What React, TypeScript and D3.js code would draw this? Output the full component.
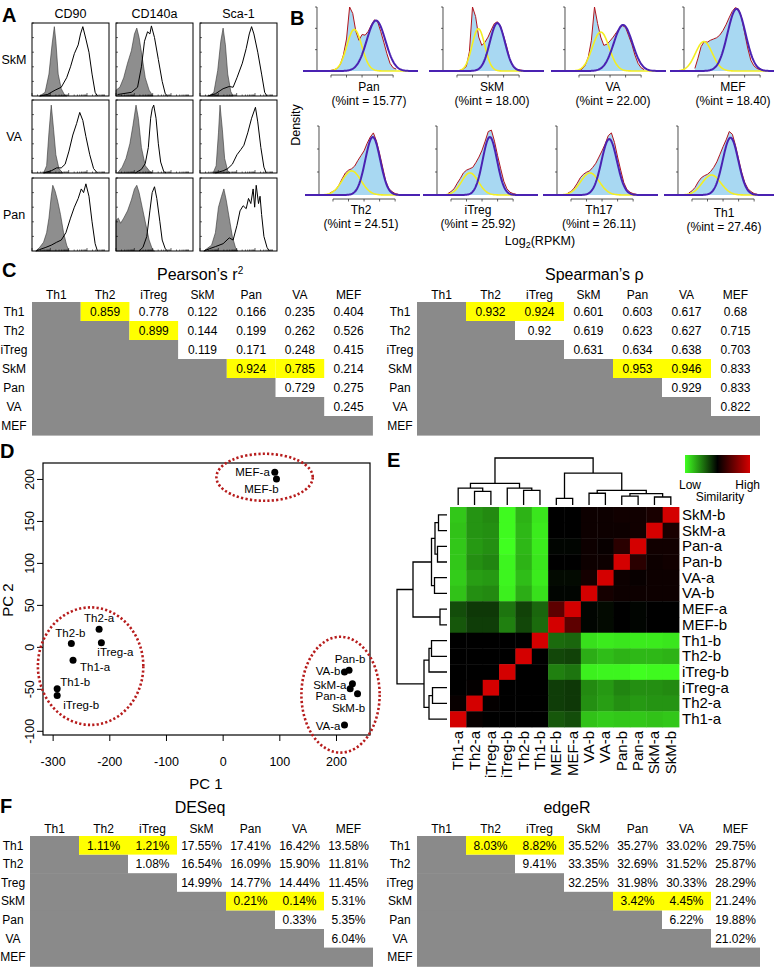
import React, { useRef, useEffect } from 'react';
import * as d3 from 'd3';

const FONT = "'Liberation Sans', Arial, Helvetica, sans-serif";

// ---------- A: flow cytometry, [position on log axis (0-1), relative count]
const flowMarkers = ['CD90', 'CD140a', 'Sca-1'];
const flowSources = ['SkM', 'VA', 'Pan'];

const skmIsotype = [
  [[0.1, 0], [0.17, 0.05], [0.22, 0.3], [0.26, 0.7], [0.29, 0.95], [0.31, 0.75], [0.34, 0.3], [0.38, 0.1], [0.42, 0.02], [0.45, 0]],
  [[0, 0.08], [0.05, 0.12], [0.1, 0.25], [0.15, 0.45], [0.2, 0.62], [0.24, 0.85], [0.27, 0.93], [0.3, 0.8], [0.33, 0.6], [0.38, 0.25], [0.43, 0.08], [0.48, 0]],
  [[0.12, 0], [0.18, 0.05], [0.23, 0.35], [0.27, 0.75], [0.3, 0.93], [0.33, 0.7], [0.36, 0.3], [0.4, 0.06], [0.43, 0]],
];
const skmStained = [
  [[0.1, 0], [0.2, 0.02], [0.3, 0.08], [0.38, 0.12], [0.45, 0.25], [0.5, 0.4], [0.55, 0.58], [0.6, 0.7], [0.63, 0.85], [0.66, 0.95], [0.7, 0.78], [0.74, 0.6], [0.78, 0.3], [0.82, 0.05], [0.85, 0]],
  [[0.02, 0.02], [0.2, 0.05], [0.28, 0.12], [0.33, 0.4], [0.37, 0.75], [0.41, 0.88], [0.44, 0.85], [0.46, 0.96], [0.5, 0.8], [0.55, 0.5], [0.6, 0.2], [0.64, 0.03], [0.67, 0]],
  [[0.1, 0], [0.2, 0.03], [0.3, 0.1], [0.38, 0.13], [0.43, 0.12], [0.48, 0.25], [0.55, 0.45], [0.6, 0.65], [0.64, 0.85], [0.67, 0.95], [0.7, 0.85], [0.75, 0.6], [0.8, 0.3], [0.84, 0.05], [0.87, 0]],
];
const vaIsotype = [
  [[0.15, 0], [0.19, 0.1], [0.22, 0.55], [0.25, 0.93], [0.28, 0.6], [0.31, 0.25], [0.35, 0.06], [0.4, 0]],
  [[0.02, 0], [0.08, 0.08], [0.13, 0.2], [0.18, 0.4], [0.22, 0.65], [0.26, 0.93], [0.29, 0.75], [0.33, 0.35], [0.38, 0.1], [0.44, 0.02], [0.47, 0]],
  [[0.17, 0], [0.21, 0.1], [0.24, 0.55], [0.26, 0.93], [0.29, 0.6], [0.32, 0.2], [0.36, 0.03], [0.39, 0]],
];
const vaStained = [
  [[0.15, 0], [0.25, 0.03], [0.32, 0.07], [0.38, 0.07], [0.43, 0.12], [0.48, 0.3], [0.53, 0.52], [0.58, 0.68], [0.62, 0.83], [0.66, 0.72], [0.7, 0.5], [0.75, 0.25], [0.8, 0.06], [0.85, 0]],
  [[0.25, 0], [0.33, 0.05], [0.38, 0.13], [0.42, 0.35], [0.45, 0.75], [0.47, 0.88], [0.49, 0.93], [0.52, 0.75], [0.55, 0.4], [0.58, 0.15], [0.62, 0.02], [0.65, 0]],
  [[0.2, 0], [0.3, 0.03], [0.36, 0.06], [0.42, 0.12], [0.48, 0.25], [0.53, 0.32], [0.57, 0.38], [0.62, 0.55], [0.67, 0.75], [0.72, 0.9], [0.75, 0.7], [0.79, 0.35], [0.83, 0.08], [0.86, 0]],
];
const panIsotype = [
  [[0.05, 0], [0.1, 0.05], [0.15, 0.12], [0.19, 0.25], [0.22, 0.45], [0.25, 0.75], [0.27, 0.9], [0.3, 0.82], [0.33, 0.7], [0.37, 0.5], [0.41, 0.25], [0.45, 0.08], [0.48, 0]],
  [[0, 0.42], [0.03, 0.45], [0.06, 0.38], [0.1, 0.45], [0.15, 0.55], [0.2, 0.7], [0.24, 0.85], [0.27, 0.9], [0.3, 0.8], [0.34, 0.6], [0.38, 0.4], [0.43, 0.15], [0.47, 0.03], [0.5, 0]],
  [[0.05, 0], [0.1, 0.04], [0.15, 0.08], [0.2, 0.25], [0.24, 0.6], [0.28, 0.75], [0.31, 0.85], [0.34, 0.7], [0.38, 0.45], [0.42, 0.2], [0.46, 0.05], [0.49, 0]],
];
const panStained = [
  [[0.05, 0], [0.1, 0.02], [0.18, 0.05], [0.25, 0.08], [0.32, 0.12], [0.38, 0.15], [0.44, 0.25], [0.5, 0.45], [0.55, 0.6], [0.6, 0.72], [0.64, 0.85], [0.67, 0.8], [0.7, 0.92], [0.74, 0.75], [0.78, 0.4], [0.82, 0.1], [0.85, 0]],
  [[0.3, 0], [0.35, 0.05], [0.4, 0.2], [0.44, 0.55], [0.47, 0.8], [0.5, 0.88], [0.53, 0.72], [0.57, 0.4], [0.6, 0.15], [0.64, 0.03], [0.67, 0]],
  [[0.05, 0], [0.12, 0.03], [0.2, 0.06], [0.3, 0.1], [0.38, 0.18], [0.43, 0.15], [0.48, 0.35], [0.52, 0.55], [0.56, 0.62], [0.6, 0.58], [0.63, 0.72], [0.66, 0.65], [0.69, 0.85], [0.71, 0.6], [0.73, 0.9], [0.76, 0.65], [0.78, 0.75], [0.8, 0.5], [0.83, 0.2], [0.87, 0.05], [0.9, 0]],
];

// ---------- B: log2(RPKM) density with two-component fits
const rnaSamples = ['Pan', 'SkM', 'VA', 'MEF', 'Th2', 'iTreg', 'Th17', 'Th1'];
const rnaPctInt = ['15.77', '18.00', '22.00', '18.40', '24.51', '25.92', '26.11', '27.46'];
const rnaBins = [-6, -5, -4, -3, -2, -1, 0, 1, 2, 3, 4, 5, 6, 7, 8, 9, 10, 11, 12, 13, 14, 15, 16];
const rnaHist = [
  [0, 0.01, 0.02, 0.04, 0.1, 0.25, 0.5, 1.0, 0.9, 0.62, 0.48, 0.57, 0.56, 0.62, 0.72, 0.8, 0.77, 0.62, 0.45, 0.27, 0.12, 0.05, 0.03],
  [0, 0, 0.01, 0.03, 0.07, 0.3, 1.0, 0.85, 0.53, 0.4, 0.45, 0.53, 0.64, 0.74, 0.77, 0.7, 0.55, 0.38, 0.18, 0.07, 0.03, 0.02, 0.01],
  [0, 0.01, 0.03, 0.09, 0.22, 0.48, 1.0, 0.74, 0.53, 0.4, 0.42, 0.47, 0.53, 0.6, 0.66, 0.71, 0.68, 0.55, 0.42, 0.25, 0.12, 0.05, 0.02],
  [0.04, 0.2, 0.38, 0.46, 0.45, 0.48, 0.5, 0.52, 0.56, 0.63, 0.72, 0.83, 0.93, 0.99, 0.97, 0.84, 0.6, 0.36, 0.17, 0.08, 0.04, 0.02, 0.01],
  [0.03, 0.05, 0.08, 0.15, 0.24, 0.32, 0.36, 0.38, 0.42, 0.5, 0.57, 0.64, 0.75, 0.84, 0.9, 0.78, 0.6, 0.4, 0.2, 0.09, 0.05, 0.02, 0.01],
  [0.02, 0.05, 0.09, 0.17, 0.24, 0.32, 0.36, 0.38, 0.4, 0.47, 0.55, 0.65, 0.78, 0.92, 0.94, 0.78, 0.57, 0.38, 0.2, 0.09, 0.04, 0.02, 0.01],
  [0.03, 0.05, 0.1, 0.17, 0.25, 0.3, 0.33, 0.35, 0.4, 0.46, 0.55, 0.64, 0.74, 0.86, 0.9, 0.76, 0.55, 0.36, 0.18, 0.08, 0.04, 0.02, 0.01],
  [0.03, 0.06, 0.11, 0.19, 0.25, 0.28, 0.3, 0.34, 0.4, 0.48, 0.59, 0.7, 0.8, 0.92, 0.88, 0.72, 0.52, 0.33, 0.18, 0.09, 0.05, 0.02, 0.01],
];
// [mean, sd, peak height]
const lowFit = [[2.5, 2.4, 0.65], [1.9, 2.05, 0.66], [2.0, 2.7, 0.61], [-3.1, 2.7, 0.46], [1.0, 3.0, 0.35], [1.1, 2.7, 0.32], [1.1, 3.0, 0.32], [1.3, 3.0, 0.29]];
const highFit = [[9.5, 3.0, 0.79], [8.0, 2.4, 0.75], [9.2, 3.0, 0.72], [7.4, 2.9, 0.97], [7.8, 2.4, 0.84], [7.5, 2.3, 0.84], [7.3, 2.5, 0.81], [7.4, 2.5, 0.83]];
const rnaTicks = [-5, 0, 5, 10, 15];

// ---------- C / F: pairwise tables (upper triangle per row)
const cellTypes = ['Th1', 'Th2', 'iTreg', 'SkM', 'Pan', 'VA', 'MEF'];
const deseqRowLabels = ['Th1', 'Th2', 'Treg', 'SkM', 'Pan', 'VA', 'MEF'];
const pearsonR2 = [
  [0.859, 0.778, 0.122, 0.166, 0.235, 0.404],
  [0.899, 0.144, 0.199, 0.262, 0.526],
  [0.119, 0.171, 0.248, 0.415],
  [0.924, 0.785, 0.214],
  [0.729, 0.275],
  [0.245],
  [],
];
const spearmanRho = [
  [0.932, 0.924, 0.601, 0.603, 0.617, 0.68],
  [0.92, 0.619, 0.623, 0.627, 0.715],
  [0.631, 0.634, 0.638, 0.703],
  [0.953, 0.946, 0.833],
  [0.929, 0.833],
  [0.822],
  [],
];
const deseqPct = [
  [1.11, 1.21, 17.55, 17.41, 16.42, 13.58],
  [1.08, 16.54, 16.09, 15.9, 11.81],
  [14.99, 14.77, 14.44, 11.45],
  [0.21, 0.14, 5.31],
  [0.33, 5.35],
  [6.04],
  [],
];
const edgerPct = [
  [8.03, 8.82, 35.52, 35.27, 33.02, 29.75],
  [9.41, 33.35, 32.69, 31.52, 25.87],
  [32.25, 31.98, 30.33, 28.29],
  [3.42, 4.45, 21.24],
  [6.22, 19.88],
  [21.02],
  [],
];
const pearsonHighlight = [[0, 1], [1, 2], [3, 4], [3, 5]];
const pairHighlight = [[0, 1], [0, 2], [3, 4], [3, 5]];

// ---------- D: PCA
const pcaNames = ['MEF-a', 'MEF-b', 'Th2-a', 'Th2-b', 'iTreg-a', 'Th1-a', 'Th1-b', 'iTreg-b', 'Pan-b', 'VA-b', 'SkM-a', 'Pan-a', 'SkM-b', 'VA-a'];
const pcaPC1 = [92, 95, -218, -267, -214, -264, -292, -292, 223, 215, 229, 225, 238, 215];
const pcaPC2 = [208, 200, 21, 4, 5, -16, -50, -58, -28, -30, -44, -50, -56, -93];
// group outlines: [centre PC1, centre PC2, radius PC1, radius PC2]
const pcaGroups = [[74, 202, 85, 28], [-233, -23, 93, 70], [208, -57, 69, 69]];
const pcaXTicks = [-300, -200, -100, 0, 100, 200];
const pcaYTicks = [-100, -50, 0, 50, 100, 150, 200];

// ---------- E: similarity heatmap (samples in dendrogram order)
const heatSamples = ['Th1-a', 'Th2-a', 'iTreg-a', 'iTreg-b', 'Th2-b', 'Th1-b', 'MEF-b', 'MEF-a', 'VA-b', 'VA-a', 'Pan-b', 'Pan-a', 'SkM-a', 'SkM-b'];
const heatSimilarity = [
  [1, 0.52, 0.5, 0.5, 0.5, 0.5, 0.33, 0.35, 0.12, 0.1, 0.11, 0.11, 0.12, 0.11],
  [0.52, 1, 0.51, 0.5, 0.5, 0.5, 0.38, 0.39, 0.22, 0.19, 0.22, 0.2, 0.21, 0.21],
  [0.5, 0.51, 1, 0.5, 0.5, 0.5, 0.38, 0.39, 0.23, 0.2, 0.24, 0.22, 0.22, 0.23],
  [0.5, 0.5, 0.5, 1, 0.5, 0.5, 0.25, 0.27, 0.03, 0.02, 0.02, 0, 0.01, 0.01],
  [0.5, 0.5, 0.5, 0.5, 1, 0.5, 0.36, 0.37, 0.16, 0.13, 0.15, 0.14, 0.14, 0.15],
  [0.5, 0.5, 0.5, 0.5, 0.5, 1, 0.29, 0.3, 0.06, 0.04, 0.05, 0.04, 0.04, 0.05],
  [0.33, 0.38, 0.38, 0.25, 0.36, 0.29, 1, 0.72, 0.49, 0.48, 0.5, 0.49, 0.5, 0.5],
  [0.35, 0.39, 0.39, 0.27, 0.37, 0.3, 0.72, 1, 0.49, 0.48, 0.5, 0.49, 0.5, 0.5],
  [0.12, 0.22, 0.23, 0.03, 0.16, 0.06, 0.49, 0.49, 1, 0.55, 0.53, 0.53, 0.53, 0.53],
  [0.1, 0.19, 0.2, 0.02, 0.13, 0.04, 0.48, 0.48, 0.55, 1, 0.53, 0.52, 0.53, 0.53],
  [0.11, 0.22, 0.24, 0.02, 0.15, 0.05, 0.5, 0.5, 0.53, 0.53, 1, 0.6, 0.53, 0.54],
  [0.11, 0.2, 0.22, 0, 0.14, 0.04, 0.49, 0.49, 0.53, 0.52, 0.6, 1, 0.54, 0.54],
  [0.12, 0.21, 0.22, 0.01, 0.14, 0.04, 0.5, 0.5, 0.53, 0.53, 0.53, 0.54, 1, 0.56],
  [0.11, 0.21, 0.23, 0.01, 0.15, 0.05, 0.5, 0.5, 0.53, 0.53, 0.54, 0.54, 0.56, 1],
];
// hclust-style merges: [child, child, height]; ids >= 14 are earlier merges
const heatMerges = [
  [1, 2, 0.29], [0, 14, 0.36], [4, 5, 0.31], [3, 16, 0.36], [15, 17, 0.46],
  [6, 7, 0.14], [8, 9, 0.25], [10, 11, 0.19], [12, 13, 0.17], [21, 22, 0.24],
  [20, 23, 0.31], [19, 24, 0.68], [18, 25, 1.0],
];

const GRAY = '#8a8a8a';

function panelLabel(svg, t, x, y) {
  svg.append('text').attr('x', x).attr('y', y).attr('font-size', 20).attr('font-weight', 'bold').text(t);
}

function drawTable(svg, o) {
  const g = svg.append('g').attr('font-size', 12);
  const n = 7;
  const xs = d3.scaleBand().domain(d3.range(n)).range([o.x0, o.x0 + n * o.colW]);
  const ys = d3.scaleBand().domain(d3.range(n)).range([o.top, o.top + n * o.rowH]);

  o.rowLabels.forEach((_, i) => {
    g.append('rect').attr('x', o.x0).attr('y', ys(i)).attr('width', xs(i) + o.colW - o.x0)
      .attr('height', o.rowH + 0.6).attr('fill', GRAY);
  });
  o.highlight.forEach(([r, c]) => {
    g.append('rect').attr('x', xs(c)).attr('y', ys(r)).attr('width', o.colW).attr('height', o.rowH).attr('fill', '#ffff00');
  });
  cellTypes.forEach((c, j) => {
    g.append('text').attr('x', xs(j) + o.colW / 2).attr('y', o.top - 3.5).attr('text-anchor', 'middle').text(c);
  });
  o.rowLabels.forEach((r, i) => {
    g.append('text').attr('x', o.labelX).attr('y', ys(i) + o.rowH / 2 + 4.3).attr('text-anchor', 'middle').text(r);
  });
  o.values.forEach((row, i) => {
    row.forEach((v, k) => {
      const j = i + 1 + k;
      g.append('text').attr('x', xs(j) + o.colW / 2).attr('y', ys(i) + o.rowH / 2 + 4.3)
        .attr('text-anchor', 'middle').text(o.fmt(v));
    });
  });
  const t = g.append('text').attr('x', o.titleX).attr('y', o.titleY).attr('font-size', 16)
    .attr('text-anchor', o.titleAnchor).text(o.title);
  if (o.sup) t.append('tspan').attr('dy', -6).attr('font-size', 10).text(o.sup);
}

const App = () => {
  const svgRef = useRef(null);

  useEffect(() => {
    const svg = d3.select(svgRef.current);
    svg.selectAll('*').remove();
    svg.attr('width', 774).attr('height', 968).style('font-family', FONT);
    svg.append('rect').attr('width', 774).attr('height', 968).attr('fill', '#fff');

    // ================= A =================
    panelLabel(svg, 'A', 2, 22);
    const flowX = [32, 116, 200];
    const flowY = [23, 100, 178];
    const flowW = 77;
    const flowH = 73;
    const isoRows = [skmIsotype, vaIsotype, panIsotype];
    const stainRows = [skmStained, vaStained, panStained];
    flowMarkers.forEach((m, c) => {
      svg.append('text').attr('x', flowX[c] + flowW / 2).attr('y', 18).attr('text-anchor', 'middle')
        .attr('font-size', 12.5).text(m);
    });
    flowSources.forEach((s, r) => {
      svg.append('text').attr('x', 14).attr('y', flowY[r] + flowH / 2 + 4).attr('text-anchor', 'middle')
        .attr('font-size', 12.5).text(s);
      flowMarkers.forEach((_, c) => {
        const x = d3.scaleLinear().domain([0, 1]).range([flowX[c], flowX[c] + flowW]);
        const y = d3.scaleLinear().domain([0, 1]).range([flowY[r] + flowH, flowY[r]]);
        const g = svg.append('g');
        g.append('path').datum(isoRows[r][c])
          .attr('d', d3.area().x(d => x(d[0])).y0(y(0)).y1(d => y(d[1])))
          .attr('fill', '#8e8e8e').attr('stroke', '#333').attr('stroke-width', 0.6);
        g.append('path').datum(stainRows[r][c])
          .attr('d', d3.line().x(d => x(d[0])).y(d => y(d[1])))
          .attr('fill', 'none').attr('stroke', '#000').attr('stroke-width', 1);
        // log decade ticks
        for (let dec = 0; dec < 4; dec++) {
          for (let k = 1; k <= 9; k++) {
            const p = (dec + Math.log10(k)) / 4.2;
            g.append('line').attr('x1', x(p)).attr('x2', x(p)).attr('y1', y(0))
              .attr('y2', y(0) - (k === 1 ? 3 : 1.5)).attr('stroke', '#000').attr('stroke-width', 0.6);
          }
        }
        [0.2, 0.4, 0.6, 0.8, 1].forEach(t => {
          g.append('line').attr('x1', x(0)).attr('x2', x(0) + 2).attr('y1', y(t)).attr('y2', y(t))
            .attr('stroke', '#000').attr('stroke-width', 0.6);
        });
        g.append('rect').attr('x', x(0)).attr('y', y(1)).attr('width', flowW).attr('height', flowH)
          .attr('fill', 'none').attr('stroke', '#000').attr('stroke-width', 1);
      });
    });

    // ================= B =================
    panelLabel(svg, 'B', 290, 25);
    const bLeft = [303, 429, 551, 670, 305, 423, 543, 664];
    const bLabelX = [369, 492, 613, 733, 361, 478, 599, 724];
    const grid = d3.range(-14, 23.01, 0.25);
    const gauss = (u, p) => p[2] * Math.exp(-0.5 * ((u - p[0]) / p[1]) ** 2);
    rnaSamples.forEach((name, i) => {
      const row = i < 4 ? 0 : 1;
      const base = row === 0 ? 71 : 195;
      const top = row === 0 ? 7 : 126;
      const x = d3.scaleLinear().domain([-14, 23]).range([bLeft[i], bLeft[i] + 115]);
      const y = d3.scaleLinear().domain([0, 1]).range([base, top]);
      const g = svg.append('g');
      const ax = x(-9.5);
      g.append('line').attr('x1', ax).attr('x2', ax).attr('y1', y(0)).attr('y2', y(1))
        .attr('stroke', '#222').attr('stroke-width', 0.8);
      [1 / 3, 2 / 3, 1].forEach(t => {
        g.append('line').attr('x1', ax - 2).attr('x2', ax).attr('y1', y(t)).attr('y2', y(t))
          .attr('stroke', '#222').attr('stroke-width', 0.7);
      });
      g.append('line').attr('x1', x(rnaTicks[0])).attr('x2', x(rnaTicks[rnaTicks.length - 1]))
        .attr('y1', base + 4).attr('y2', base + 4).attr('stroke', '#222').attr('stroke-width', 0.8);
      rnaTicks.forEach(t => {
        g.append('line').attr('x1', x(t)).attr('x2', x(t)).attr('y1', base + 4).attr('y2', base + 6.5)
          .attr('stroke', '#222').attr('stroke-width', 0.7);
      });
      const hist = rnaBins.map((b, k) => [b, rnaHist[i][k]]);
      g.append('path').datum(hist)
        .attr('d', d3.area().x(d => x(d[0])).y0(y(0)).y1(d => y(d[1])))
        .attr('fill', '#a8d8f2');
      g.append('path').datum(hist)
        .attr('d', d3.line().x(d => x(d[0])).y(d => y(d[1])))
        .attr('fill', 'none').attr('stroke', '#b3141c').attr('stroke-width', 1);
      g.append('path').datum(grid)
        .attr('d', d3.line().x(u => x(u)).y(u => y(gauss(u, lowFit[i]))))
        .attr('fill', 'none').attr('stroke', '#f3ee22').attr('stroke-width', 1.6);
      g.append('path').datum(grid)
        .attr('d', d3.line().x(u => x(u)).y(u => y(gauss(u, highFit[i]))))
        .attr('fill', 'none').attr('stroke', '#4a22b2').attr('stroke-width', 2);
      const ly = row === 0 ? 91 : (name === 'Th1' ? 217 : 214);
      g.append('text').attr('x', bLabelX[i]).attr('y', ly).attr('text-anchor', 'middle')
        .attr('font-size', 12).text(name);
      g.append('text').attr('x', bLabelX[i]).attr('y', ly + 13.5).attr('text-anchor', 'middle')
        .attr('font-size', 12).text(`(%int = ${rnaPctInt[i]})`);
    });
    svg.append('text').attr('transform', 'translate(300,125) rotate(-90)').attr('text-anchor', 'middle')
      .attr('font-size', 12.5).text('Density');
    const lg = svg.append('text').attr('x', 540).attr('y', 245).attr('text-anchor', 'middle').attr('font-size', 12.5);
    lg.append('tspan').text('Log');
    lg.append('tspan').attr('dy', 3).attr('font-size', 9).text('2');
    lg.append('tspan').attr('dy', -3).text('(RPKM)');

    // ================= C =================
    panelLabel(svg, 'C', 2, 277);
    const fmtR = v => String(v);
    drawTable(svg, {
      x0: 32, top: 302, colW: 48.7, rowH: 19, rowLabels: cellTypes, labelX: 14,
      values: pearsonR2, highlight: pearsonHighlight, fmt: fmtR,
      title: 'Pearson\u2019s r', sup: '2', titleX: 157, titleY: 280, titleAnchor: 'start',
    });
    drawTable(svg, {
      x0: 417, top: 302, colW: 49, rowH: 19, rowLabels: cellTypes, labelX: 400,
      values: spearmanRho, highlight: pairHighlight, fmt: fmtR,
      title: 'Spearman\u2019s \u03c1', titleX: 545, titleY: 280, titleAnchor: 'start',
    });

    // ================= D =================
    panelLabel(svg, 'D', 0, 458);
    {
      const x = d3.scaleLinear().domain([-317, 260]).range([43, 370]);
      const y = d3.scaleLinear().domain([-105, 219]).range([735, 463]);
      const g = svg.append('g');
      g.append('rect').attr('x', 43).attr('y', 463).attr('width', 327).attr('height', 272)
        .attr('fill', 'none').attr('stroke', '#000').attr('stroke-width', 1.2);
      const xa = g.append('g').attr('transform', 'translate(0,735)')
        .call(d3.axisBottom(x).tickValues(pcaXTicks).tickSize(6).tickPadding(16).tickFormat(d => String(d)));
      xa.select('.domain').remove();
      xa.attr('font-size', 12.5).attr('font-family', FONT);
      const ya = g.append('g').attr('transform', 'translate(43,0)')
        .call(d3.axisLeft(y).tickValues(pcaYTicks).tickSize(6).tickFormat(d => String(d)));
      ya.select('.domain').remove();
      ya.attr('font-size', 12.5).attr('font-family', FONT);
      ya.selectAll('text').attr('transform', 'rotate(-90)').attr('x', 0).attr('y', -9).attr('dy', 0)
        .attr('text-anchor', 'middle');
      g.append('text').attr('x', 206).attr('y', 789).attr('text-anchor', 'middle').attr('font-size', 15).text('PC 1');
      g.append('text').attr('transform', 'translate(13,600) rotate(-90)').attr('text-anchor', 'middle')
        .attr('font-size', 15).text('PC 2');

      pcaGroups.forEach(([cx, cy, rx, ry]) => {
        g.append('ellipse').attr('cx', x(cx)).attr('cy', y(cy))
          .attr('rx', x(cx + rx) - x(cx)).attr('ry', y(cy) - y(cy + ry))
          .attr('fill', 'none').attr('stroke', '#b71c1c').attr('stroke-width', 2.6)
          .attr('stroke-dasharray', '2.2,2.2');
      });
      const labelPlace = [
        ['end', -5, 4], ['middle', -15, 14], ['middle', 0, -7], ['middle', -1, -6], ['start', -4, 13],
        ['start', 7, 11], ['start', 3, -3], ['start', 6, 13], ['middle', 1, -7], ['end', -4, 3],
        ['end', -6, 5], ['end', -4, 11], ['middle', -9, 18], ['end', -4, 5],
      ];
      pcaNames.forEach((nm, i) => {
        const px = x(pcaPC1[i]);
        const py = y(pcaPC2[i]);
        g.append('circle').attr('cx', px).attr('cy', py).attr('r', 3.5).attr('fill', '#000');
        const [anc, dx, dy] = labelPlace[i];
        g.append('text').attr('x', px + dx).attr('y', py + dy).attr('text-anchor', anc)
          .attr('font-size', 11.5).text(nm);
      });
    }

    // ================= E =================
    panelLabel(svg, 'E', 387, 467);
    {
      const n = heatSamples.length;
      const cx = d3.scaleBand().domain(d3.range(n)).range([450, 679]);
      const ry = d3.scaleBand().domain(d3.range(n)).range([507, 727]);
      const color = d3.scaleLinear().domain([0, 0.5, 1]).range(['#40ff20', '#000000', '#d40000']);
      const g = svg.append('g');
      for (let r = 0; r < n; r++) {
        for (let c = 0; c < n; c++) {
          g.append('rect').attr('x', cx(c)).attr('y', ry(r)).attr('width', cx.bandwidth() + 0.4)
            .attr('height', ry.bandwidth() + 0.4).attr('fill', color(heatSimilarity[n - 1 - r][c]));
        }
      }
      heatSamples.forEach((s, c) => {
        g.append('text').attr('transform', `translate(${cx(c) + cx.bandwidth() / 2 + 5},731) rotate(-90)`)
          .attr('text-anchor', 'end').attr('font-size', 15).text(s);
      });
      for (let r = 0; r < n; r++) {
        g.append('text').attr('x', 682).attr('y', ry(r) + ry.bandwidth() / 2 + 5)
          .attr('font-size', 15).text(heatSamples[n - 1 - r]);
      }
      const segments = leafPos => {
        const pos = leafPos.slice();
        const hgt = leafPos.map(() => 0);
        return heatMerges.map(([a, b, h]) => {
          const s = { p1: pos[a], h1: hgt[a], p2: pos[b], h2: hgt[b], h };
          pos.push((pos[a] + pos[b]) / 2);
          hgt.push(h);
          return s;
        });
      };
      const topH = d3.scaleLinear().domain([0, 1]).range([505, 458]);
      segments(heatSamples.map((_, i) => cx(i) + cx.bandwidth() / 2)).forEach(s => {
        g.append('path')
          .attr('d', `M${s.p1},${topH(s.h1)}V${topH(s.h)}H${s.p2}V${topH(s.h2)}`)
          .attr('fill', 'none').attr('stroke', '#000').attr('stroke-width', 1.3);
      });
      const leftH = d3.scaleLinear().domain([0, 1]).range([447, 397]);
      segments(heatSamples.map((_, i) => ry(n - 1 - i) + ry.bandwidth() / 2)).forEach(s => {
        g.append('path')
          .attr('d', `M${leftH(s.h1)},${s.p1}H${leftH(s.h)}V${s.p2}H${leftH(s.h2)}`)
          .attr('fill', 'none').attr('stroke', '#000').attr('stroke-width', 1.3);
      });
      // colour key
      const grad = svg.append('defs').append('linearGradient').attr('id', 'simKey');
      [0, 0.5, 1].forEach(t => {
        grad.append('stop').attr('offset', t).attr('stop-color', color(t));
      });
      g.append('rect').attr('x', 685).attr('y', 455).attr('width', 65).attr('height', 18).attr('fill', 'url(#simKey)');
      g.append('text').attr('x', 679).attr('y', 489).attr('font-size', 12).text('Low');
      g.append('text').attr('x', 760).attr('y', 489).attr('text-anchor', 'end').attr('font-size', 12).text('High');
      g.append('text').attr('x', 720).attr('y', 501).attr('text-anchor', 'middle').attr('font-size', 12).text('Similarity');
    }

    // ================= F =================
    panelLabel(svg, 'F', 0, 813);
    const fmtP = v => `${v.toFixed(2)}%`;
    drawTable(svg, {
      x0: 30, top: 836, colW: 49, rowH: 18.6, rowLabels: deseqRowLabels, labelX: 13,
      values: deseqPct, highlight: pairHighlight, fmt: fmtP,
      title: 'DESeq', titleX: 200, titleY: 813, titleAnchor: 'middle',
    });
    drawTable(svg, {
      x0: 417, top: 836, colW: 49, rowH: 18.6, rowLabels: cellTypes, labelX: 400,
      values: edgerPct, highlight: pairHighlight, fmt: fmtP,
      title: 'edgeR', titleX: 567, titleY: 813, titleAnchor: 'middle',
    });
  }, []);

  return (
    <div>
      <svg ref={svgRef} style={{ position: 'absolute', left: 0, top: 0, display: 'block' }} />
    </div>
  );
};

export default App;
